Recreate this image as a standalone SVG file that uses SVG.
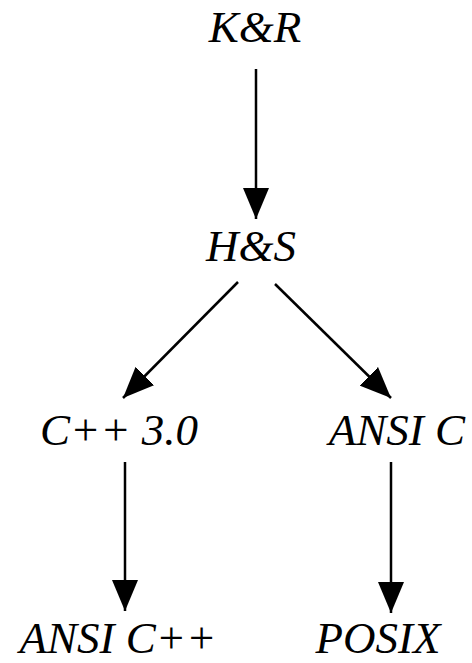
<svg xmlns="http://www.w3.org/2000/svg" width="472" height="663" viewBox="0 0 472 663">
  <defs>
    <marker id="ah" markerUnits="userSpaceOnUse" markerWidth="31" markerHeight="26" refX="31" refY="13" orient="auto" viewBox="0 0 31 26">
      <path d="M0,0 L31,13 L0,26 z" fill="#000"/>
    </marker>
  </defs>
  <rect width="472" height="663" fill="#fff"/>
  <g id="connectors" stroke="#000" stroke-width="2.5" fill="none" marker-end="url(#ah)">
    <line x1="256" y1="69" x2="256" y2="219"/>
    <line x1="238" y1="282" x2="123" y2="398"/>
    <line x1="275" y1="284" x2="391" y2="398"/>
    <line x1="125" y1="462" x2="125" y2="611"/>
    <line x1="391" y1="462" x2="391" y2="613"/>
  </g>
  <g font-family="Liberation Serif, serif" font-style="italic" font-size="45" text-anchor="middle" fill="#000">
    <g id="kr"><text x="255" y="42">K&amp;R</text></g>
    <g id="hs"><text x="251" y="261">H&amp;S</text></g>
    <g id="cpp30"><text x="119" y="445">C++ 3.0</text></g>
    <g id="ansic"><text x="397" y="445">ANSI C</text></g>
    <g id="ansicpp"><text x="118" y="653">ANSI C++</text></g>
    <g id="posix"><text x="378" y="653">POSIX</text></g>
  </g>
</svg>
